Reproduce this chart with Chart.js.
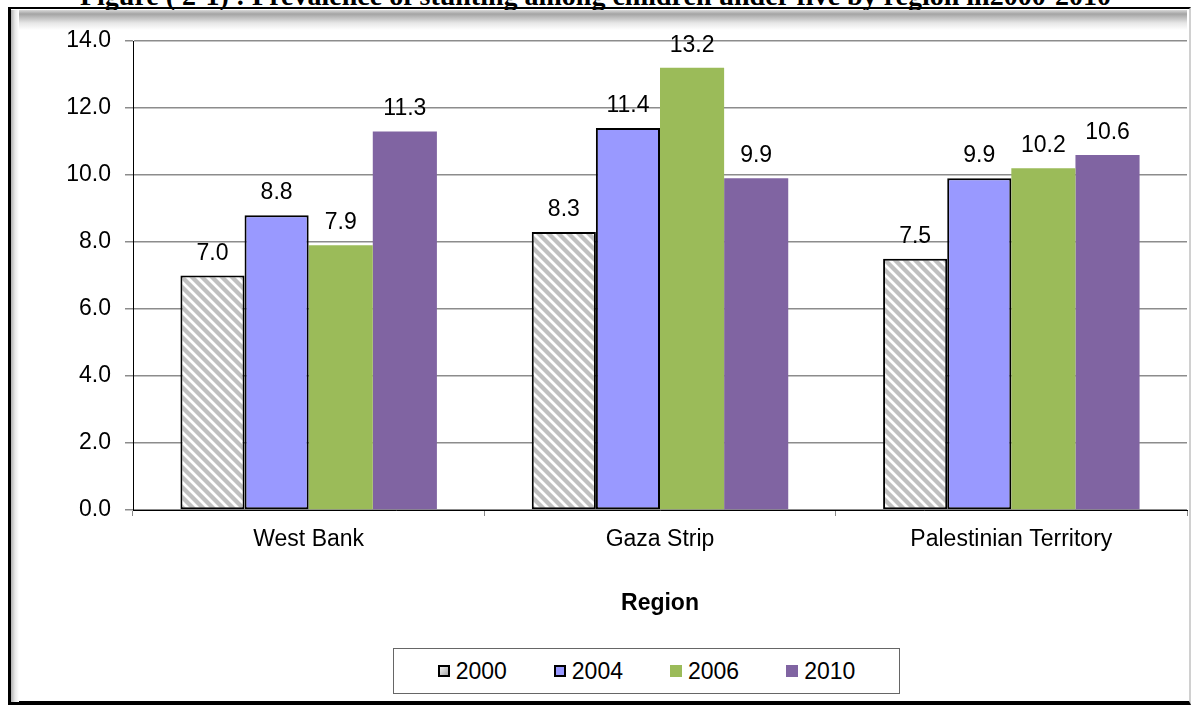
<!DOCTYPE html>
<html>
<head>
<meta charset="utf-8">
<script src="https://cdn.jsdelivr.net/npm/chart.js@4.4.1/dist/chart.umd.min.js"></script>
<style>
  html, body { margin: 0; padding: 0; background: #fff; }
  #page { position: relative; width: 1191px; height: 706px; overflow: hidden; background: #fff; }
  #title {
    position: absolute; left: 0; top: -18px; width: 1191px; text-align: center;
    font: bold 28px/28px "Liberation Serif", "Times New Roman", serif; color: #000; white-space: nowrap;
  }
  #frame {
    position: absolute; left: 8px; top: 7px; width: 1178px; height: 692px;
    border-top: 2px solid #000; border-left: 3px solid #000; border-bottom: 4px solid #000;
    border-right: 2px solid #d0d0d0;
  }
  #shadowTop {
    position: absolute; left: 11px; top: 10px; width: 1176px; height: 20px;
    background: linear-gradient(to bottom, #d8d8d8 0px, #a4a4a4 4px, #e6e6e6 13px, #fff 20px);
  }
  #shadowLeft {
    position: absolute; left: 11px; top: 10px; width: 8px; height: 692px;
    background: linear-gradient(to right, #b0b0b0 0px, #e8e8e8 4px, #fff 8px);
  }
  #chartBox { position: absolute; left: 0; top: 0; width: 1191px; height: 706px; }
  #legend {
    position: absolute; left: 393px; top: 648px; width: 505px; height: 44px;
    border: 1px solid #666; background: #fff;
    display: flex; align-items: center; justify-content: center; gap: 47px;
    font: 23px "Liberation Sans", Arial, sans-serif; color: #000;
  }
  .item { display: flex; align-items: center; }
  .mark { width: 12px; height: 12px; margin-right: 6px; box-sizing: border-box; }
</style>
</head>
<body>
<div id="page">
  <div id="title">Figure ( 2-1) : Prevalence of stunting among children under five by region in2000-2010</div>
  <div id="frame"></div>
  <div id="shadowTop"></div>
  <div id="shadowLeft"></div>
  <div id="chartBox"><canvas id="stuntingChart"></canvas></div>
  <div id="legend"></div>
</div>
<script>
// Data
const regions = ['West Bank', 'Gaza Strip', 'Palestinian Territory'];
const years = ['2000', '2004', '2006', '2010'];
const stunting2000 = [7.0, 8.3, 7.5];
const stunting2004 = [8.8, 11.4, 9.9];
const stunting2006 = [7.9, 13.2, 10.2];
const stunting2010 = [11.3, 9.9, 10.6];
const yMin = 0, yMax = 14, yStep = 2;

const FONT = '"Liberation Sans", Arial, sans-serif';

// grey bar with white diagonal stripes for 2000
function makeHatch() {
  const tile = document.createElement('canvas');
  tile.width = 10; tile.height = 10;
  const c = tile.getContext('2d');
  c.fillStyle = '#c0c0c0';
  c.fillRect(0, 0, 10, 10);
  c.strokeStyle = '#ffffff';
  c.lineWidth = 2.8;
  c.beginPath();
  c.moveTo(-5, -5); c.lineTo(15, 15);
  c.moveTo(-15, -5); c.lineTo(5, 15);
  c.moveTo(5, -5); c.lineTo(25, 15);
  c.stroke();
  return c.createPattern(tile, 'repeat');
}

const ctx = document.getElementById('stuntingChart').getContext('2d');

const seriesValues = [stunting2000, stunting2004, stunting2006, stunting2010];
const fills = [makeHatch(), '#9999ff', '#9bbb59', '#8064a2'];
const borders = [2, 2, 0, 0];
const legendMarks = [
  'background: linear-gradient(135deg, #f4f4f4, #a8a8a8); border: 2px solid #000;',
  'background: #9999ff; border: 2px solid #000;',
  'background: #9bbb59;',
  'background: #8064a2;'
];

const datasets = years.map((y, i) => ({
  label: y,
  data: seriesValues[i],
  backgroundColor: fills[i],
  borderColor: '#000',
  borderWidth: borders[i],
  borderSkipped: false,
  categoryPercentage: 0.73,
  barPercentage: 1.0
}));

// value labels above each bar
const valueLabels = {
  id: 'valueLabels',
  afterDatasetsDraw(chart) {
    const c = chart.ctx;
    c.save();
    c.font = '23px ' + FONT;
    c.fillStyle = '#000';
    c.textAlign = 'center';
    c.textBaseline = 'alphabetic';
    chart.data.datasets.forEach((ds, i) => {
      chart.getDatasetMeta(i).data.forEach((bar, j) => {
        c.fillText(ds.data[j].toFixed(1), bar.x, bar.y - 16);
      });
    });
    c.restore();
  }
};

const myChart = new Chart(ctx, {
  type: 'bar',
  data: { labels: regions, datasets: datasets },
  options: {
    responsive: true,
    maintainAspectRatio: false,
    animation: false,
    layout: { padding: { left: 0, right: 4, top: 41, bottom: 86 } },
    plugins: {
      legend: { display: false },
      tooltip: { enabled: false }
    },
    scales: {
      x: {
        grid: { drawOnChartArea: false, drawTicks: true, tickLength: 6, color: '#888', offset: true },
        border: { color: '#000', width: 1 },
        ticks: { color: '#000', font: { family: FONT, size: 23 }, padding: 10, maxRotation: 0 },
        title: {
          display: true, text: 'Region', color: '#000',
          font: { family: FONT, size: 23, weight: 'bold' },
          padding: { top: 0, bottom: 3 }
        },
        afterFit(scale) { scale.height = 110; }
      },
      y: {
        min: yMin,
        max: yMax,
        ticks: {
          stepSize: yStep,
          color: '#000',
          font: { family: FONT, size: 23 },
          padding: 14,
          callback: v => v.toFixed(1)
        },
        grid: { color: '#8c8c8c', lineWidth: 1.5, tickLength: 8 },
        border: { color: '#000', width: 1 },
        afterFit(scale) { scale.width = 133; }
      }
    }
  },
  plugins: [valueLabels]
});

// legend box below the chart
const legendEl = document.getElementById('legend');
years.forEach((y, i) => {
  const item = document.createElement('div');
  item.className = 'item';
  item.innerHTML = '<span class="mark" style="' + legendMarks[i] + '"></span><span>' + y + '</span>';
  legendEl.appendChild(item);
});
</script>
</body>
</html>
